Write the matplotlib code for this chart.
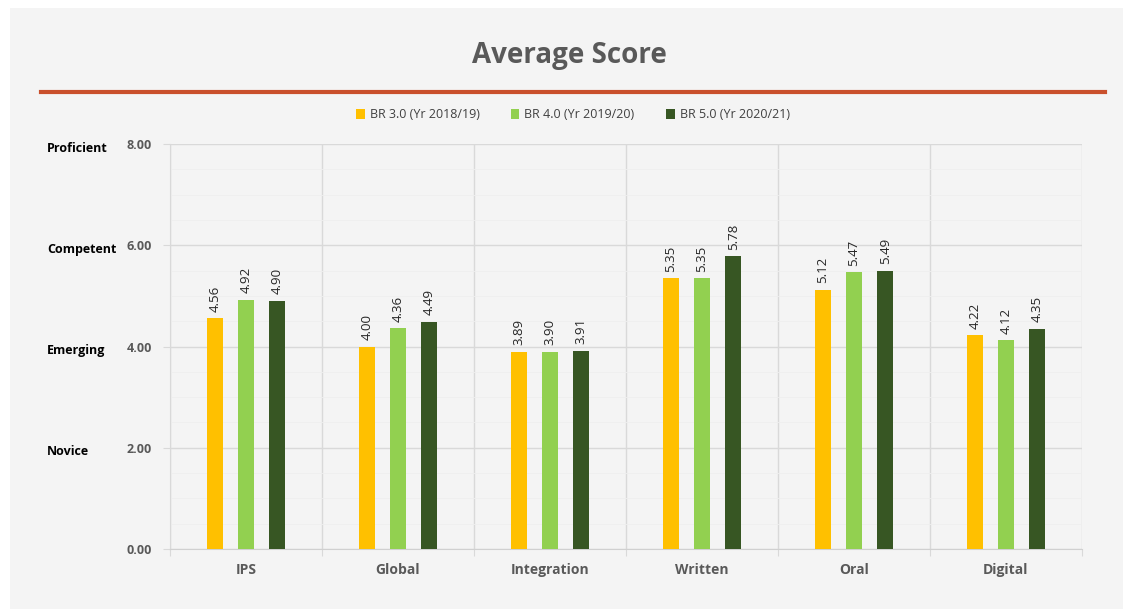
import numpy as np
import matplotlib.pyplot as plt
from matplotlib.lines import Line2D
from matplotlib.patches import Patch

categories = ["IPS", "Global", "Integration", "Written", "Oral", "Digital"]
series_names = ["BR 3.0 (Yr 2018/19)", "BR 4.0 (Yr 2019/20)", "BR 5.0 (Yr 2020/21)"]
br3 = [4.56, 4.00, 3.89, 5.35, 5.12, 4.22]
br4 = [4.92, 4.36, 3.90, 5.35, 5.47, 4.12]
br5 = [4.90, 4.49, 3.91, 5.78, 5.49, 4.35]
levels = ["Novice", "Emerging", "Competent", "Proficient"]
level_ticks = [2, 4, 6, 8]

colors = ["#FFC000", "#92D050", "#375623"]
bg = "#f4f4f4"

plt.rcParams["font.family"] = ["Open Sans", "DejaVu Sans"]

fig = plt.figure(figsize=(11.23, 6.09), dpi=100)
fig.patch.set_facecolor("white")
# panel background
fig.add_artist(plt.Rectangle((10 / 1123, 0), 1, 1 - 8 / 609, transform=fig.transFigure,
                             facecolor=bg, edgecolor="none", zorder=0))

ax = fig.add_axes([170 / 1123, 1 - 549 / 609, 912 / 1123, 405 / 609])
ax.set_facecolor(bg)

x = np.arange(len(categories))
width = 0.105
offsets = [-0.205, 0, 0.205]
for data, off, col in zip([br3, br4, br5], offsets, colors):
    bars = ax.bar(x + off, data, width, color=col, zorder=3)
    for b, v in zip(bars, data):
        ax.text(b.get_x() + b.get_width() / 2, v + 0.13, f"{v:.2f}", rotation=90,
                ha="center", va="bottom", fontsize=9.5, color="#262626")

ax.set_xlim(-0.5, len(categories) - 0.5)
ax.set_ylim(0, 8)
ax.set_yticks(np.arange(0, 8.01, 2))
ax.set_yticklabels([f"{v:.2f}" for v in np.arange(0, 8.01, 2)], fontsize=9,
                   fontweight="bold", color="#595959")
ax.set_yticks(np.arange(0, 8.01, 0.5), minor=True)
ax.grid(axis="y", which="major", color="#d9d9d9", lw=1, zorder=0)
ax.grid(axis="y", which="minor", color="#efefef", lw=0.6, zorder=0)

ax.set_xticks(np.arange(-0.5, len(categories)), minor=False)
ax.set_xticklabels([])
ax.grid(axis="x", which="major", color="#d9d9d9", lw=1, zorder=0)
ax.set_xticks(x, minor=True)
ax.set_xticklabels(categories, minor=True, fontsize=10, fontweight="bold", color="#595959")
ax.tick_params(axis="x", which="minor", length=0, pad=10)
ax.tick_params(axis="x", which="major", length=5, color="#d9d9d9")
ax.tick_params(axis="y", which="major", length=5, color="#d9d9d9", pad=8)
ax.tick_params(axis="y", which="minor", length=0)

for s in ["top", "right"]:
    ax.spines[s].set_visible(False)
ax.spines["left"].set_color("#d9d9d9")
ax.spines["bottom"].set_color("#d0d0d0")

for lbl, t in zip(levels, level_ticks):
    ax.annotate(lbl, xy=(47 / 1123, t), xycoords=("figure fraction", "data"),
                xytext=(0, -3), textcoords="offset points", fontsize=9,
                fontweight="bold", color="black", va="center", ha="left",
                annotation_clip=False)

fig.text(0.507, 1 - 56 / 609, "Average Score", ha="center", va="center",
         fontsize=20, fontweight="bold", color="#595959")
fig.add_artist(Line2D([41 / 1123, 1105 / 1123], [1 - 92 / 609, 1 - 92 / 609],
                      color="#C9502C", lw=3))

handles = [Patch(facecolor=c, edgecolor="none") for c in colors]
fig.legend(handles, series_names, loc="center", bbox_to_anchor=(0.51, 1 - 115 / 609),
           ncol=3, frameon=False, fontsize=9, handlelength=0.7, handleheight=0.9,
           columnspacing=2.5, handletextpad=0.4, labelcolor="#404040")

fig.savefig("out.png", dpi=100, facecolor=fig.get_facecolor())
